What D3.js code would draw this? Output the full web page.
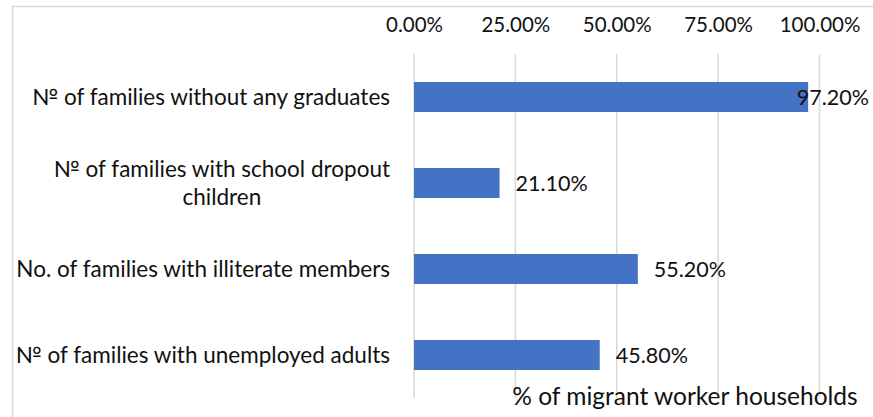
<!DOCTYPE html>
<html>
<head>
<meta charset="utf-8">
<script src="https://cdn.jsdelivr.net/npm/d3@7"></script>
<style>
  html, body { margin: 0; padding: 0; background: #fff; }
  svg { display: block; font-family: Lato, "Open Sans", sans-serif; }
</style>
</head>
<body>
<svg id="chart" width="873" height="417"></svg>
<script>
// Household indicators (share of migrant worker households)
const categories = [
  "№ of families without any graduates",
  "№ of families with school dropout children",
  "No. of families with illiterate members",
  "№ of families with unemployed adults"
];
const values = [0.972, 0.211, 0.552, 0.458];
const tickValues = [0, 0.25, 0.5, 0.75, 1.0];
const axisTitle = "% of migrant worker households";

const svg = d3.select("#chart");
const W = 873, H = 417;
const tickFont = 20.5, valueFont = 21.5, labelFont = 22.5, titleFont = 24.5;
const textColor = "#111";

// chart frame (left and top edges visible)
svg.append("path")
  .attr("d", `M12.5,${H + 5} L12.5,6.5 L${W + 5},6.5`)
  .attr("fill", "none")
  .attr("stroke", "#d9d9d9")
  .attr("stroke-width", 1.5);

const x = d3.scaleLinear().domain([0, 1]).range([414, 819.5]);
const y = d3.scaleBand().domain(categories).range([54, 398])
  .paddingInner(0.651).paddingOuter(0.3255);

// vertical gridlines
svg.append("g").selectAll("line").data(tickValues).join("line")
  .attr("x1", d => x(d)).attr("x2", d => x(d))
  .attr("y1", 54).attr("y2", 398)
  .attr("stroke", "#d9d9d9").attr("stroke-width", 1.5);

// top axis
const fmt = d3.format(".2%");
const axis = svg.append("g")
  .attr("transform", "translate(0,32)")
  .call(d3.axisTop(x).tickValues(tickValues).tickFormat(fmt).tickSize(0).tickPadding(0));
axis.select(".domain").remove();
axis.selectAll("text")
  .attr("font-size", tickFont)
  .attr("font-family", "Lato, 'Open Sans', sans-serif")
  .attr("fill", textColor)
  .attr("dy", 0);

// bars
svg.append("g").selectAll("rect").data(categories).join("rect")
  .attr("x", x(0))
  .attr("y", d => y(d))
  .attr("width", (d, i) => x(values[i]) - x(0))
  .attr("height", y.bandwidth())
  .attr("fill", "#4472C4");

// value labels, kept inside the chart area
const rightLimit = 869;
svg.append("g").selectAll("text").data(categories).join("text")
  .attr("font-size", valueFont)
  .attr("fill", textColor)
  .attr("y", d => y(d) + y.bandwidth() / 2)
  .attr("dy", "0.35em")
  .text((d, i) => fmt(values[i]))
  .each(function (d, i) {
    const w = this.getComputedTextLength();
    const xPos = Math.min(x(values[i]) + 16, rightLimit - w);
    d3.select(this).attr("x", xPos);
  });

// category labels, word-wrapped and right-aligned as a block
const labelRight = 390;
const maxLabelWidth = 380;
const lineHeight = 28;
const labels = svg.append("g");
categories.forEach(cat => {
  const cy = y(cat) + y.bandwidth() / 2;
  const probe = labels.append("text").attr("font-size", labelFont);
  const words = cat.split(" ");
  const lines = [];
  let current = [];
  words.forEach(w => {
    const trial = current.concat(w).join(" ");
    probe.text(trial);
    if (probe.node().getComputedTextLength() > maxLabelWidth && current.length) {
      lines.push(current.join(" "));
      current = [w];
    } else {
      current.push(w);
    }
  });
  lines.push(current.join(" "));
  const widths = lines.map(l => { probe.text(l); return probe.node().getComputedTextLength(); });
  probe.remove();
  const blockW = d3.max(widths);
  const cx = labelRight - blockW / 2;
  const t = labels.append("text")
    .attr("font-size", labelFont)
    .attr("fill", textColor)
    .attr("text-anchor", "middle");
  lines.forEach((l, k) => {
    t.append("tspan")
      .attr("x", cx)
      .attr("y", cy + (k - (lines.length - 1) / 2) * lineHeight)
      .attr("dy", "0.35em")
      .text(l);
  });
});

// axis title
svg.append("text")
  .attr("x", 685)
  .attr("y", 405)
  .attr("text-anchor", "middle")
  .attr("font-size", titleFont)
  .attr("fill", textColor)
  .text(axisTitle);
</script>
</body>
</html>
